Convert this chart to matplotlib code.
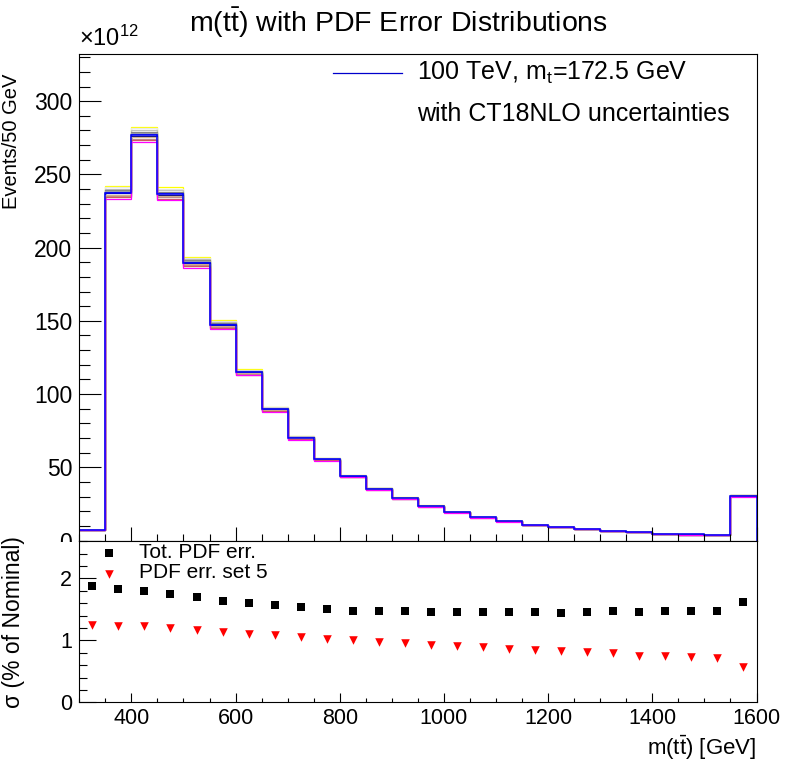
import numpy as np
import matplotlib.pyplot as plt
from matplotlib.patches import Rectangle
from matplotlib.ticker import MultipleLocator

plt.rcParams['font.family'] = ['Liberation Sans', 'DejaVu Sans']
plt.rcParams['mathtext.fontset'] = 'custom'
plt.rcParams['mathtext.rm'] = 'Liberation Sans'
plt.rcParams['mathtext.it'] = 'Liberation Sans:italic'

# bin edges of m(tt) in GeV (50 GeV bins, last bin holds the overflow)
bin_edges = [300, 350, 400, 450, 500, 550, 600, 650, 700, 750, 800, 850, 900,
             950, 1000, 1050, 1100, 1150, 1200, 1250, 1300, 1350, 1400, 1450,
             1500, 1550, 1600]
bin_centers = [325, 375, 425, 475, 525, 575, 625, 675, 725, 775, 825, 875, 925,
               975, 1025, 1075, 1125, 1175, 1225, 1275, 1325, 1375, 1425, 1475,
               1525, 1575]

# nominal events / 50 GeV in units of 1e12
nominal = [7.3, 237.5, 277.0, 236.5, 189.8, 147.4, 114.8, 89.5, 70.2, 55.4,
           43.9, 35.3, 28.9, 23.5, 19.4, 15.9, 13.2, 10.7, 9.1, 8.0, 6.6, 5.9,
           4.6, 4.1, 3.6, 30.5]

# PDF error members: colour and shift from nominal (percent)
member_colors = ['yellow', '#e8e8e8', 'silver', 'gray', 'darkgray', '#3030c0',
                 'navy', 'tan', 'rosybrown', 'indianred', 'magenta']
member_shift = [2.0, 1.6, 1.1, 0.75, 0.4, 0.2, -0.2, -0.55, -0.95, -1.35, -1.8]

# lower pad: relative uncertainty in % of nominal
tot_pdf_err = [1.87, 1.83, 1.79, 1.75, 1.695, 1.63, 1.60, 1.565, 1.535, 1.50,
               1.48, 1.48, 1.465, 1.45, 1.45, 1.45, 1.45, 1.45, 1.435, 1.45,
               1.465, 1.45, 1.465, 1.465, 1.48, 1.61]
set5_err = [1.245, 1.228, 1.228, 1.198, 1.165, 1.137, 1.10, 1.078, 1.052, 1.018,
            1.0, 0.968, 0.952, 0.92, 0.904, 0.893, 0.856, 0.84, 0.824, 0.807,
            0.791, 0.754, 0.754, 0.727, 0.711, 0.575]

W, H = 796, 772
fig = plt.figure(figsize=(W / 100, H / 100), dpi=100)

def fx(px):
    return px / W

def fy(py):
    return 1 - py / H

left, right = 79.3, 756.5
ax = fig.add_axes([fx(left), fy(540.5), fx(right - left), fy(54.3) - fy(540.5)])
ax.set_zorder(0)

nom = np.array(nominal)
for col, sh in zip(member_colors, member_shift):
    ax.stairs(nom * (1 + sh / 100), bin_edges, color=col, lw=0.9, baseline=None)
ax.stairs(nom, bin_edges, color='#0000ff', lw=1.1, baseline=0)

ax.set_xlim(300, 1600)
ax.set_ylim(0, 332)
ax.yaxis.set_major_locator(MultipleLocator(50))
ax.yaxis.set_minor_locator(MultipleLocator(10))
ax.xaxis.set_major_locator(MultipleLocator(200))
ax.xaxis.set_minor_locator(MultipleLocator(50))
ax.tick_params(axis='y', which='major', direction='in', length=15.8, width=0.8,
               labelsize=16.5, pad=5)
ax.tick_params(axis='y', which='minor', direction='in', length=7.9, width=0.8)
ax.tick_params(axis='x', which='major', direction='in', length=10, width=0.8,
               labelbottom=False)
ax.tick_params(axis='x', which='minor', direction='in', length=5, width=0.8)
for s in ax.spines.values():
    s.set_linewidth(0.8)

fig.text(fx(12), fy(141), 'Events/50 GeV', fontsize=14.5, rotation=90,
         ha='center', va='center')

fig.text(fx(79), fy(51), r'$\times$10$^{12}$', fontsize=17, va='bottom',
         ha='left')

# top legend
fig.lines.append(plt.Line2D([fx(333), fx(402)], [fy(73.3), fy(73.3)],
                            color='#0000cc', lw=0.9, transform=fig.transFigure))
fig.text(fx(417), fy(73), r'100 TeV, m$_{\mathrm{t}}$=172.5 GeV', fontsize=18,
         va='center', ha='left')
fig.text(fx(417), fy(114), 'with CT18NLO uncertainties', fontsize=18,
         va='center', ha='left')

fig.text(0.5, fy(23), r'm(t$\bar{\mathrm{t}}$) with PDF Error Distributions',
         fontsize=20.5, ha='center', va='center')

# white pad hiding anything below the top pad
fig.patches.append(Rectangle((0, 0), 1, fy(541.5), transform=fig.transFigure,
                             facecolor='white', edgecolor='none', zorder=1))

ax2 = fig.add_axes([fx(left), fy(702.3), fx(right - left), fy(540.5) - fy(702.3)])
ax2.set_zorder(2)
ax2.scatter(bin_centers, tot_pdf_err, marker='s', s=32, color='black',
            linewidths=0)
ax2.scatter(bin_centers, set5_err, marker='v', s=38, color='red', linewidths=0)
ax2.set_xlim(300, 1600)
ax2.set_ylim(0, 2.61)
ax2.yaxis.set_major_locator(MultipleLocator(1))
ax2.yaxis.set_minor_locator(MultipleLocator(0.2))
ax2.xaxis.set_major_locator(MultipleLocator(200))
ax2.xaxis.set_minor_locator(MultipleLocator(50))
ax2.tick_params(axis='y', which='major', direction='in', length=12, width=0.8,
                labelsize=15.5, pad=5)
ax2.tick_params(axis='y', which='minor', direction='in', length=6, width=0.8)
ax2.tick_params(axis='x', which='major', direction='in', length=6.5, width=0.8,
                labelsize=15.5, pad=4)
ax2.tick_params(axis='x', which='minor', direction='in', length=3.2, width=0.8)
for s in ax2.spines.values():
    s.set_linewidth(0.8)

fig.text(fx(13.5), fy(622), 'σ (% of Nominal)', fontsize=16.5, rotation=90,
         ha='center', va='center')
fig.text(fx(756), fy(748), r'm(t$\bar{\mathrm{t}}$) [GeV]', fontsize=16,
         ha='right', va='center')

# lower legend
ax2.scatter([fx(109)], [fy(552.7)], marker='s', s=32, color='black',
            linewidths=0, transform=fig.transFigure, clip_on=False)
ax2.scatter([fx(109)], [fy(574.3)], marker='v', s=38, color='red',
            linewidths=0, transform=fig.transFigure, clip_on=False)
fig.text(fx(139), fy(552), 'Tot. PDF err.', fontsize=15, va='center',
         ha='left', zorder=3)
fig.text(fx(139), fy(573), 'PDF err. set 5', fontsize=15, va='center',
         ha='left', zorder=3)

fig.savefig('out.png', dpi=100)
